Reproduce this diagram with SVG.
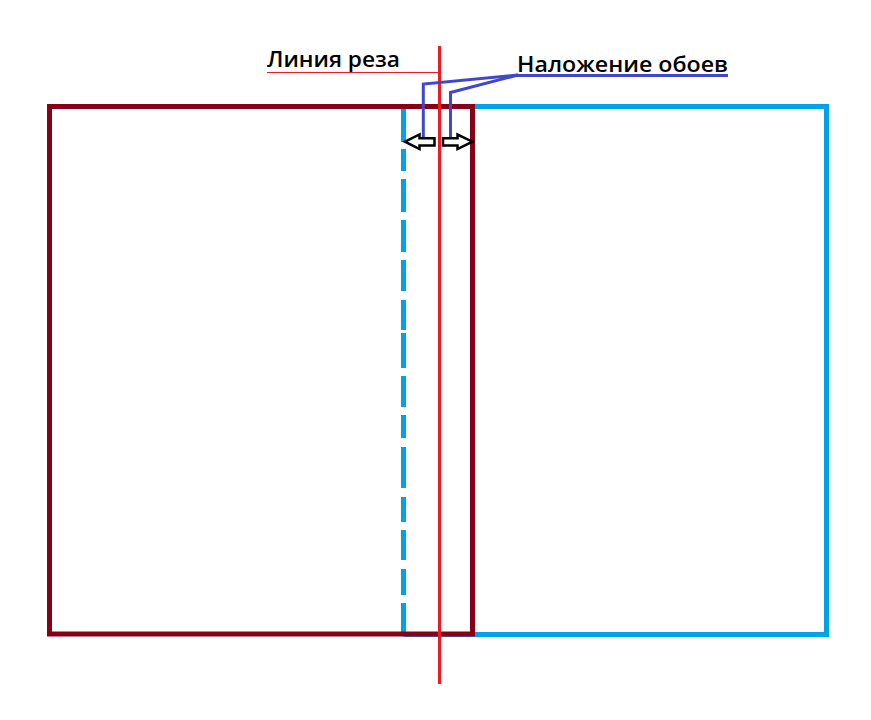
<svg xmlns="http://www.w3.org/2000/svg" width="871" height="720" viewBox="0 0 871 720">
<style>
.lbl{font-family:"Open Sans","Liberation Sans",sans-serif;font-weight:600;font-size:21px;fill:#000}
.lead{fill:none;stroke:#3F48CC;stroke-width:3}
.arr{fill:#fff;stroke:#000;stroke-width:2.5;stroke-linejoin:miter}
</style>
<rect width="871" height="720" fill="#fff"/>
<g id="blue-sheet">
<polyline points="403.5,106.5 826.5,106.5 826.5,634.5 403.5,634.5" fill="none" stroke="#00A2E8" stroke-width="5"/>
<path d="M403.5,108V142M403.5,149V171M403.5,179V212M403.5,220V252M403.5,260V291M403.5,300V330M403.5,333V368M403.5,376V407M403.5,415V438M403.5,447V488M403.5,497V522M403.5,530V560M403.5,569V595M403.5,603V633" stroke="#00A2E8" stroke-width="5" fill="none"/>
</g>
<g id="red-sheet">
<rect x="49.5" y="106.5" width="423" height="527.5" fill="none" stroke="#880015" stroke-width="5"/>
</g>
<g id="cut-line">
<line x1="439.5" y1="46" x2="439.5" y2="684" stroke="#ED1C24" stroke-width="3"/>
<line x1="267" y1="72.5" x2="439" y2="72.5" stroke="#ED1C24" stroke-width="1.2"/>
<text class="lbl" x="267" y="66.7" textLength="133" lengthAdjust="spacingAndGlyphs">Линия реза</text>
</g>
<g id="overlap-label">
<text class="lbl" x="517" y="71.7" textLength="211" lengthAdjust="spacingAndGlyphs">Наложение обоев</text>
</g>
<g id="connectors">
<line class="lead" x1="516" y1="75.5" x2="728" y2="75.5" stroke-width="2.5"/>
<polyline class="lead" points="423.3,145 423.3,84 518,75"/>
<polyline class="lead" points="450.5,145 450.5,92.5 518,75"/>
<polygon class="arr" points="405,141.7 419.5,134.5 419.5,138.3 434.5,138.3 434.5,145.5 419.5,145.5 419.5,149"/>
<polygon class="arr" points="443,138.3 457.5,138.3 457.5,134.5 472.5,141.7 457.5,149 457.5,145.5 443,145.5"/>
</g>
</svg>
